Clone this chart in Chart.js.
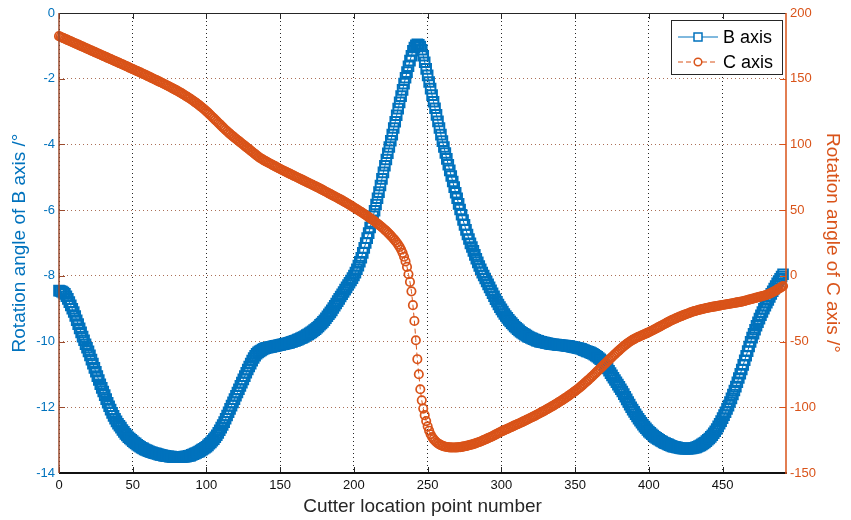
<!DOCTYPE html>
<html>
<head>
<meta charset="utf-8">
<title>Rotation angles of B and C axes</title>
<script src="https://cdn.jsdelivr.net/npm/chart.js@4.4.1/dist/chart.umd.min.js"></script>
<style>
  html, body { margin: 0; padding: 0; background: #fff; }
  #wrap { width: 851px; height: 520px; }
</style>
</head>
<body>
<div id="wrap"><canvas id="rotation-chart" width="851" height="520"></canvas></div>
<script>
// --- Data: one value per cutter location point (index = point number) ---
const bAxisAngles = [
  -8.45, -8.46, -8.48, -8.51, -8.55, -8.62, -8.7, -8.8, -8.9, -9.0,
  -9.1, -9.22, -9.35, -9.47, -9.6, -9.72, -9.85, -9.96, -10.08, -10.19,
  -10.3, -10.42, -10.55, -10.67, -10.8, -10.92, -11.05, -11.17, -11.3, -11.41,
  -11.52, -11.63, -11.75, -11.86, -11.97, -12.07, -12.17, -12.26, -12.35, -12.43,
  -12.5, -12.56, -12.62, -12.69, -12.75, -12.81, -12.86, -12.91, -12.95, -12.99,
  -13.03, -13.07, -13.1, -13.14, -13.17, -13.2, -13.23, -13.25, -13.28, -13.3,
  -13.32, -13.34, -13.36, -13.37, -13.39, -13.4, -13.41, -13.42, -13.44, -13.45,
  -13.46, -13.47, -13.48, -13.49, -13.49, -13.5, -13.5, -13.51, -13.51, -13.52,
  -13.52, -13.52, -13.52, -13.51, -13.51, -13.5, -13.5, -13.49, -13.48, -13.47,
  -13.45, -13.43, -13.41, -13.39, -13.37, -13.35, -13.32, -13.29, -13.26, -13.23,
  -13.2, -13.16, -13.11, -13.07, -13.02, -12.97, -12.91, -12.85, -12.78, -12.7,
  -12.62, -12.54, -12.45, -12.35, -12.25, -12.15, -12.05, -11.95, -11.85, -11.75,
  -11.65, -11.55, -11.45, -11.35, -11.25, -11.15, -11.05, -10.95, -10.85, -10.76,
  -10.67, -10.58, -10.5, -10.43, -10.37, -10.33, -10.3, -10.27, -10.24, -10.22,
  -10.2, -10.19, -10.18, -10.17, -10.16, -10.15, -10.14, -10.13, -10.12, -10.11,
  -10.1, -10.09, -10.08, -10.07, -10.06, -10.05, -10.04, -10.02, -10.01, -9.99,
  -9.98, -9.96, -9.94, -9.92, -9.9, -9.88, -9.86, -9.83, -9.8, -9.78,
  -9.75, -9.72, -9.69, -9.65, -9.62, -9.58, -9.54, -9.49, -9.45, -9.4,
  -9.35, -9.29, -9.23, -9.17, -9.11, -9.05, -8.98, -8.91, -8.84, -8.77,
  -8.7, -8.63, -8.56, -8.49, -8.42, -8.35, -8.28, -8.21, -8.14, -8.07,
  -7.99, -7.9, -7.8, -7.69, -7.57, -7.45, -7.3, -7.15, -7.0, -6.85,
  -6.7, -6.53, -6.36, -6.19, -6.02, -5.83, -5.64, -5.45, -5.25, -5.05,
  -4.85, -4.65, -4.46, -4.27, -4.08, -3.89, -3.7, -3.5, -3.31, -3.11,
  -2.91, -2.72, -2.53, -2.34, -2.15, -1.97, -1.8, -1.62, -1.45, -1.3,
  -1.15, -1.05, -0.98, -0.95, -0.97, -1.02, -1.12, -1.3, -1.5, -1.7,
  -1.9, -2.1, -2.3, -2.5, -2.7, -2.9, -3.1, -3.3, -3.5, -3.7,
  -3.9, -4.08, -4.26, -4.44, -4.62, -4.79, -4.96, -5.13, -5.3, -5.47,
  -5.64, -5.81, -5.98, -6.14, -6.3, -6.45, -6.6, -6.74, -6.88, -7.01,
  -7.12, -7.24, -7.36, -7.48, -7.59, -7.7, -7.8, -7.9, -7.99, -8.08,
  -8.17, -8.26, -8.35, -8.44, -8.53, -8.62, -8.71, -8.79, -8.87, -8.95,
  -9.02, -9.09, -9.16, -9.22, -9.28, -9.34, -9.39, -9.44, -9.49, -9.54,
  -9.58, -9.62, -9.66, -9.7, -9.73, -9.76, -9.79, -9.82, -9.85, -9.87,
  -9.89, -9.91, -9.93, -9.95, -9.97, -9.98, -10.0, -10.01, -10.02, -10.03,
  -10.04, -10.05, -10.06, -10.07, -10.08, -10.08, -10.09, -10.09, -10.1, -10.1,
  -10.11, -10.11, -10.12, -10.12, -10.13, -10.13, -10.14, -10.15, -10.16, -10.17,
  -10.18, -10.19, -10.2, -10.21, -10.22, -10.24, -10.26, -10.28, -10.3, -10.31,
  -10.33, -10.35, -10.37, -10.4, -10.43, -10.46, -10.5, -10.54, -10.58, -10.63,
  -10.69, -10.75, -10.82, -10.89, -10.96, -11.03, -11.1, -11.17, -11.24, -11.31,
  -11.38, -11.45, -11.52, -11.6, -11.68, -11.76, -11.84, -11.92, -12.0, -12.07,
  -12.14, -12.21, -12.28, -12.35, -12.41, -12.47, -12.53, -12.59, -12.64, -12.69,
  -12.74, -12.78, -12.82, -12.86, -12.9, -12.93, -12.96, -12.99, -13.02, -13.04,
  -13.07, -13.09, -13.11, -13.13, -13.15, -13.17, -13.19, -13.2, -13.21, -13.22,
  -13.23, -13.24, -13.25, -13.25, -13.26, -13.26, -13.26, -13.26, -13.25, -13.25,
  -13.24, -13.23, -13.22, -13.2, -13.18, -13.16, -13.13, -13.1, -13.07, -13.03,
  -12.99, -12.95, -12.9, -12.85, -12.79, -12.73, -12.66, -12.58, -12.5, -12.42,
  -12.33, -12.24, -12.15, -12.05, -11.95, -11.84, -11.73, -11.61, -11.49, -11.37,
  -11.24, -11.11, -10.98, -10.85, -10.71, -10.57, -10.43, -10.29, -10.15, -10.01,
  -9.88, -9.76, -9.64, -9.52, -9.41, -9.3, -9.2, -9.1, -9.0, -8.91,
  -8.82, -8.73, -8.64, -8.55, -8.47, -8.39, -8.31, -8.23, -8.16, -8.09,
  -8.02, -7.95
];

const cAxisAngles = [
  182.4, 181.9, 181.4, 180.9, 180.4, 179.9, 179.4, 178.9, 178.4, 177.9,
  177.4, 176.9, 176.4, 175.9, 175.4, 174.9, 174.4, 173.9, 173.4, 172.9,
  172.4, 171.9, 171.4, 170.9, 170.4, 169.9, 169.4, 168.9, 168.4, 167.9,
  167.4, 166.9, 166.4, 165.9, 165.4, 164.9, 164.4, 163.9, 163.4, 162.9,
  162.4, 161.9, 161.4, 160.9, 160.4, 159.9, 159.4, 158.9, 158.3, 157.8,
  157.3, 156.8, 156.3, 155.8, 155.3, 154.8, 154.2, 153.7, 153.2, 152.7,
  152.1, 151.6, 151.1, 150.5, 150.0, 149.4, 148.9, 148.4, 147.8, 147.3,
  146.7, 146.2, 145.6, 145.0, 144.5, 143.9, 143.3, 142.7, 142.1, 141.5,
  140.9, 140.3, 139.6, 139.0, 138.3, 137.6, 136.9, 136.2, 135.5, 134.8,
  134.0, 133.2, 132.4, 131.6, 130.8, 129.9, 129.0, 128.1, 127.2, 126.2,
  125.2, 124.2, 123.1, 122.0, 120.9, 119.8, 118.7, 117.6, 116.5, 115.4,
  114.3, 113.2, 112.1, 111.0, 110.0, 109.0, 108.0, 107.0, 106.1, 105.2,
  104.3, 103.4, 102.5, 101.6, 100.7, 99.8, 98.9, 98.0, 97.1, 96.2,
  95.3, 94.4, 93.5, 92.6, 91.7, 90.8, 90.0, 89.3, 88.6, 87.9,
  87.3, 86.7, 86.1, 85.5, 84.9, 84.3, 83.7, 83.1, 82.5, 81.9,
  81.3, 80.7, 80.2, 79.6, 79.1, 78.5, 78.0, 77.4, 76.9, 76.3,
  75.8, 75.2, 74.7, 74.1, 73.6, 73.0, 72.5, 71.9, 71.4, 70.8,
  70.3, 69.7, 69.2, 68.6, 68.1, 67.5, 67.0, 66.4, 65.8, 65.2,
  64.6, 64.0, 63.4, 62.8, 62.2, 61.6, 61.0, 60.4, 59.8, 59.2,
  58.6, 58.0, 57.4, 56.7, 56.1, 55.4, 54.8, 54.1, 53.4, 52.7,
  52.0, 51.3, 50.6, 49.9, 49.2, 48.5, 47.8, 47.0, 46.3, 45.5,
  44.7, 43.9, 43.1, 42.3, 41.5, 40.6, 39.7, 38.8, 37.9, 37.0,
  36.0, 35.0, 34.0, 32.9, 31.8, 30.6, 29.4, 28.1, 26.8, 25.4,
  23.8, 22.0, 20.0, 17.5, 14.5, 11.0, 6.8, 1.2, -4.6, -11.8,
  -22.3, -34.3, -49.0, -63.4, -74.9, -86.3, -94.7, -101.0, -106.0, -110.5,
  -114.5, -117.8, -120.5, -122.6, -124.2, -125.5, -126.6, -127.5, -128.2, -128.8,
  -129.3, -129.7, -130.0, -130.2, -130.4, -130.5, -130.6, -130.6, -130.6, -130.6,
  -130.5, -130.4, -130.3, -130.1, -129.9, -129.7, -129.5, -129.2, -128.9, -128.6,
  -128.3, -128.0, -127.6, -127.2, -126.8, -126.4, -126.0, -125.5, -125.0, -124.5,
  -124.0, -123.5, -123.0, -122.5, -122.0, -121.4, -120.8, -120.2, -119.6, -119.0,
  -118.4, -117.9, -117.4, -116.9, -116.4, -115.9, -115.4, -114.9, -114.3, -113.8,
  -113.3, -112.8, -112.3, -111.8, -111.3, -110.7, -110.2, -109.6, -109.1, -108.5,
  -108.0, -107.4, -106.9, -106.3, -105.7, -105.1, -104.5, -103.9, -103.3, -102.7,
  -102.1, -101.4, -100.8, -100.2, -99.5, -98.9, -98.2, -97.5, -96.8, -96.1,
  -95.4, -94.7, -94.0, -93.2, -92.5, -91.7, -90.9, -90.1, -89.3, -88.5,
  -87.7, -86.8, -85.9, -85.0, -84.1, -83.1, -82.1, -81.1, -80.1, -79.1,
  -78.1, -77.0, -76.0, -74.9, -73.8, -72.7, -71.6, -70.5, -69.4, -68.3,
  -67.2, -66.1, -65.0, -63.9, -62.8, -61.7, -60.6, -59.6, -58.5, -57.5,
  -56.5, -55.5, -54.5, -53.5, -52.6, -51.7, -50.9, -50.1, -49.4, -48.7,
  -48.1, -47.5, -46.9, -46.4, -45.9, -45.4, -44.9, -44.4, -43.9, -43.4,
  -42.9, -42.3, -41.8, -41.2, -40.6, -40.0, -39.4, -38.8, -38.2, -37.6,
  -37.0, -36.4, -35.8, -35.2, -34.6, -34.0, -33.5, -33.0, -32.5, -32.0,
  -31.5, -31.0, -30.6, -30.1, -29.7, -29.2, -28.8, -28.4, -28.0, -27.5,
  -27.1, -26.8, -26.5, -26.2, -25.9, -25.6, -25.3, -25.0, -24.8, -24.5,
  -24.3, -24.1, -23.8, -23.6, -23.4, -23.2, -23.0, -22.8, -22.6, -22.4,
  -22.2, -22.0, -21.8, -21.6, -21.4, -21.2, -21.0, -20.8, -20.6, -20.4,
  -20.2, -20.0, -19.8, -19.6, -19.3, -19.0, -18.7, -18.4, -18.1, -17.8,
  -17.5, -17.2, -16.9, -16.6, -16.3, -16.0, -15.7, -15.4, -15.1, -14.8,
  -14.4, -14.0, -13.5, -13.0, -12.4, -11.8, -11.2, -10.5, -9.8, -9.1,
  -8.4, -7.7
];

const pointTicks = [0, 50, 100, 150, 200, 250, 300, 350, 400, 450];
const bAxisTicks = [-14, -12, -10, -8, -6, -4, -2, 0];
const cAxisTicks = [-150, -100, -50, 0, 50, 100, 150, 200];
const seriesNames = ['B axis', 'C axis'];

const BLUE = '#0072BD';
const ORANGE = '#D95319';
const FONT = '"Liberation Sans", Arial, Helvetica, sans-serif';

Chart.defaults.font.family = FONT;

function toPoints(values) {
    return values.map((v, i) => ({ x: i, y: v }));
}

function fixedTicks(list) {
    return scale => { scale.ticks = list.map(v => ({ value: v })); };
}

// Frame, inward tick marks and the boxed legend, drawn over the data
const axesFrame = {
    id: 'axesFrame',
    afterDraw(chart) {
        const ctx = chart.ctx;
        const { left, right, top, bottom } = chart.chartArea;
        const xs = chart.scales.x, yb = chart.scales.yB, yc = chart.scales.yC;
        const seg = (x1, y1, x2, y2) => { ctx.beginPath(); ctx.moveTo(x1, y1); ctx.lineTo(x2, y2); ctx.stroke(); };

        ctx.save();
        ctx.setLineDash([]);
        ctx.lineWidth = 1;

        ctx.strokeStyle = '#262626';
        pointTicks.forEach(v => {
            const px = Math.round(xs.getPixelForValue(v)) + 0.5;
            seg(px, bottom, px, bottom - 6);
            seg(px, top, px, top + 6);
        });
        ctx.strokeStyle = '#9B4A2C';
        bAxisTicks.forEach(v => {
            const py = Math.round(yb.getPixelForValue(v)) + 0.5;
            seg(left, py, left + 6, py);
        });
        ctx.strokeStyle = ORANGE;
        cAxisTicks.forEach(v => {
            const py = Math.round(yc.getPixelForValue(v)) + 0.5;
            seg(right, py, right - 6, py);
        });

        // axis lines
        ctx.lineWidth = 1;
        ctx.strokeStyle = '#262626';
        seg(left, top + 0.5, right, top + 0.5);
        ctx.lineWidth = 2;
        ctx.strokeStyle = '#111';
        seg(left, bottom, right + 1, bottom);
        ctx.lineWidth = 1.5;
        ctx.strokeStyle = '#9B4A2C';
        seg(left, top, left, bottom);
        ctx.strokeStyle = ORANGE;
        seg(right, top, right, bottom + 1);

        // legend box
        const lx = 671.5, ly = 20.5, lw = 111, lh = 54;
        ctx.fillStyle = '#fff';
        ctx.fillRect(lx, ly, lw, lh);
        ctx.lineWidth = 1;
        ctx.strokeStyle = '#262626';
        ctx.strokeRect(lx, ly, lw, lh);

        const rows = [
            { name: seriesNames[0], color: BLUE, dash: [], marker: 'rect', y: 37 },
            { name: seriesNames[1], color: ORANGE, dash: [5, 3], marker: 'circle', y: 62 }
        ];
        rows.forEach(r => {
            ctx.strokeStyle = r.color;
            ctx.lineWidth = 1;
            ctx.setLineDash(r.dash);
            seg(678, r.y, 718, r.y);
            ctx.setLineDash([]);
            ctx.lineWidth = 1.5;
            if (r.marker === 'rect') {
                ctx.fillStyle = '#fff';
                ctx.fillRect(694, r.y - 4, 8, 8);
                ctx.strokeRect(694, r.y - 4, 8, 8);
            } else {
                ctx.beginPath();
                ctx.arc(698, r.y, 3.8, 0, Math.PI * 2);
                ctx.fillStyle = '#fff';
                ctx.fill();
                ctx.stroke();
            }
            ctx.fillStyle = '#000';
            ctx.font = '18px ' + FONT;
            ctx.textAlign = 'left';
            ctx.textBaseline = 'middle';
            ctx.fillText(r.name, 723, r.y + 1);
        });
        ctx.restore();
    }
};

const ctx = document.getElementById('rotation-chart');
new Chart(ctx, {
    type: 'line',
    data: {
        datasets: [{
            label: seriesNames[0],
            data: toPoints(bAxisAngles),
            yAxisID: 'yB',
            borderColor: BLUE,
            backgroundColor: 'rgba(0,0,0,0)',
            borderWidth: 1,
            pointStyle: 'rect',
            pointRadius: 6.8,
            pointBorderWidth: 2,
            pointBorderColor: BLUE,
            pointBackgroundColor: 'rgba(0,0,0,0)',
            clip: false,
            order: 2
        }, {
            label: seriesNames[1],
            data: toPoints(cAxisAngles),
            yAxisID: 'yC',
            borderColor: ORANGE,
            backgroundColor: 'rgba(0,0,0,0)',
            borderWidth: 1,
            borderDash: [5, 3],
            pointStyle: 'circle',
            pointRadius: 4.2,
            pointBorderWidth: 1.7,
            pointBorderColor: ORANGE,
            pointBackgroundColor: 'rgba(0,0,0,0)',
            clip: false,
            order: 1
        }]
    },
    options: {
        responsive: false,
        animation: false,
        events: [],
        layout: { padding: { top: 13, left: 0, right: 0, bottom: 0 } },
        plugins: {
            legend: { display: false },
            tooltip: { enabled: false }
        },
        scales: {
            x: {
                type: 'linear',
                min: 0,
                max: 493,
                afterBuildTicks: fixedTicks(pointTicks),
                afterFit: scale => { scale.height = 47; },
                ticks: { color: '#111', font: { size: 13 }, padding: 5, maxRotation: 0 },
                grid: { color: 'rgba(0,0,0,0.85)', lineWidth: 1, drawTicks: false },
                border: { display: false, dash: [1, 3] },
                title: {
                    display: true,
                    text: 'Cutter location point number',
                    color: '#262626',
                    font: { size: 19 },
                    padding: { top: 0, bottom: 2 }
                }
            },
            yB: {
                type: 'linear',
                position: 'left',
                min: -14,
                max: 0,
                afterBuildTicks: fixedTicks(bAxisTicks),
                afterFit: scale => { scale.width = 59; },
                ticks: { color: BLUE, font: { size: 13 }, padding: 4 },
                grid: { color: 'rgba(150,75,45,0.8)', lineWidth: 1, drawTicks: false },
                border: { display: false, dash: [1, 3] },
                title: {
                    display: true,
                    text: 'Rotation angle of B axis /°',
                    color: BLUE,
                    font: { size: 19 },
                    padding: { top: 8, bottom: 0 }
                }
            },
            yC: {
                type: 'linear',
                position: 'right',
                min: -150,
                max: 200,
                afterBuildTicks: fixedTicks(cAxisTicks),
                afterFit: scale => { scale.width = 65; },
                ticks: { color: ORANGE, font: { size: 13 }, padding: 4 },
                grid: { drawOnChartArea: false, drawTicks: false },
                border: { display: false },
                title: {
                    display: true,
                    text: 'Rotation angle of C axis /°',
                    color: ORANGE,
                    font: { size: 19 },
                    padding: { top: 7, bottom: 0 }
                }
            }
        }
    },
    plugins: [axesFrame]
});
</script>
</body>
</html>
